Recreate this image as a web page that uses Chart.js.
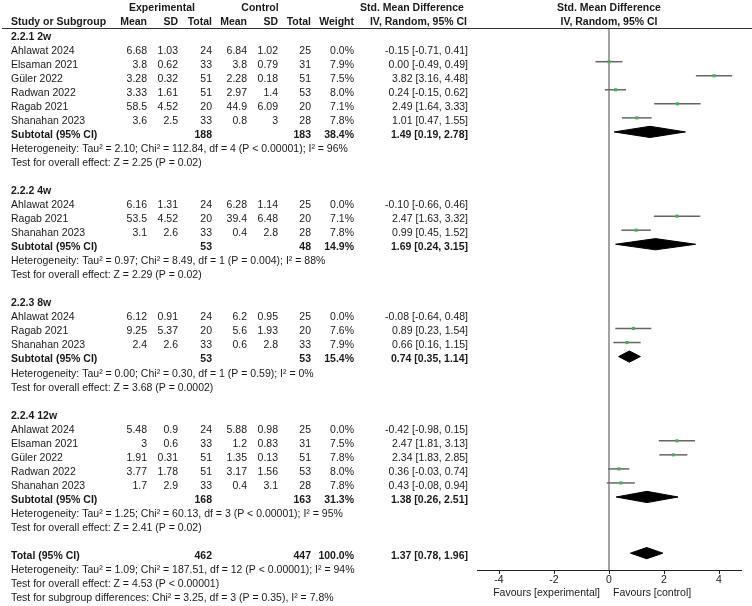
<!DOCTYPE html>
<html>
<head>
<meta charset="utf-8">
<script src="https://cdn.jsdelivr.net/npm/chart.js@4"></script>
<style>
  html, body { margin: 0; padding: 0; background: #fff; }
  canvas { display: block; }
</style>
</head>
<body>
<canvas id="forest" width="752" height="606"></canvas>
<script>
// ---- data ----
var groupLabels = ["2.2.1 2w", "2.2.2 4w", "2.2.3 8w", "2.2.4 12w"];
var groupSizes = [6, 3, 3, 5];

var studyNames = ["Ahlawat 2024", "Elsaman 2021", "Güler 2022", "Radwan 2022", "Ragab 2021", "Shanahan 2023",
                  "Ahlawat 2024", "Ragab 2021", "Shanahan 2023",
                  "Ahlawat 2024", "Ragab 2021", "Shanahan 2023",
                  "Ahlawat 2024", "Elsaman 2021", "Güler 2022", "Radwan 2022", "Shanahan 2023"];
var expMean  = [6.68, 3.8, 3.28, 3.33, 58.5, 3.6,  6.16, 53.5, 3.1,  6.12, 9.25, 2.4,  5.48, 3, 1.91, 3.77, 1.7];
var expSD    = [1.03, 0.62, 0.32, 1.61, 4.52, 2.5,  1.31, 4.52, 2.6,  0.91, 5.37, 2.6,  0.9, 0.6, 0.31, 1.78, 2.9];
var expTotal = [24, 33, 51, 51, 20, 33,  24, 20, 33,  24, 20, 33,  24, 33, 51, 51, 33];
var ctlMean  = [6.84, 3.8, 2.28, 2.97, 44.9, 0.8,  6.28, 39.4, 0.4,  6.2, 5.6, 0.6,  5.88, 1.2, 1.35, 3.17, 0.4];
var ctlSD    = [1.02, 0.79, 0.18, 1.4, 6.09, 3,  1.14, 6.48, 2.8,  0.95, 1.93, 2.8,  0.98, 0.83, 0.13, 1.56, 3.1];
var ctlTotal = [25, 31, 51, 53, 20, 28,  25, 20, 28,  25, 20, 33,  25, 31, 51, 53, 28];
var weights  = [0.0, 7.9, 7.5, 8.0, 7.1, 7.8,  0.0, 7.1, 7.8,  0.0, 7.6, 7.9,  0.0, 7.5, 7.8, 8.0, 7.8];
var smd      = [-0.15, 0.00, 3.82, 0.24, 2.49, 1.01,  -0.10, 2.47, 0.99,  -0.08, 0.89, 0.66,  -0.42, 2.47, 2.34, 0.36, 0.43];
var ciLow    = [-0.71, -0.49, 3.16, -0.15, 1.64, 0.47,  -0.66, 1.63, 0.45,  -0.64, 0.23, 0.16,  -0.98, 1.81, 1.83, -0.03, -0.08];
var ciHigh   = [0.41, 0.49, 4.48, 0.62, 3.33, 1.55,  0.46, 3.32, 1.52,  0.48, 1.54, 1.15,  0.15, 3.13, 2.85, 0.74, 0.94];

var subExpTotal = [188, 53, 53, 168];
var subCtlTotal = [183, 48, 53, 163];
var subWeight   = [38.4, 14.9, 15.4, 31.3];
var subSmd      = [1.49, 1.69, 0.74, 1.38];
var subLow      = [0.19, 0.24, 0.35, 0.26];
var subHigh     = [2.78, 3.15, 1.14, 2.51];
var subHetText = [
  "Heterogeneity: Tau² = 2.10; Chi² = 112.84, df = 4 (P < 0.00001); I² = 96%",
  "Heterogeneity: Tau² = 0.97; Chi² = 8.49, df = 1 (P = 0.004); I² = 88%",
  "Heterogeneity: Tau² = 0.00; Chi² = 0.30, df = 1 (P = 0.59); I² = 0%",
  "Heterogeneity: Tau² = 1.25; Chi² = 60.13, df = 3 (P < 0.00001); I² = 95%"
];
var subTestText = [
  "Test for overall effect: Z = 2.25 (P = 0.02)",
  "Test for overall effect: Z = 2.29 (P = 0.02)",
  "Test for overall effect: Z = 3.68 (P = 0.0002)",
  "Test for overall effect: Z = 2.41 (P = 0.02)"
];

var totalExp = 462, totalCtl = 447, totalWeight = 100.0;
var totalSmd = 1.37, totalLow = 0.78, totalHigh = 1.96;
var totalText = [
  "Heterogeneity: Tau² = 1.09; Chi² = 187.51, df = 12 (P < 0.00001); I² = 94%",
  "Test for overall effect: Z = 4.53 (P < 0.00001)",
  "Test for subgroup differences: Chi² = 3.25, df = 3 (P = 0.35), I² = 7.8%"
];

var xTicks = [-4, -2, 0, 2, 4];
var xTickLabels = ["-4", "-2", "0", "2", "4"];

// ---- row layout ----
var studyRow = [], groupRow = [], subRow = [];
var r = 0, k = 0;
for (var g = 0; g < groupLabels.length; g++) {
  groupRow.push(r); r++;
  for (var j = 0; j < groupSizes[g]; j++) { studyRow.push(r); r++; k++; }
  subRow.push(r);
  r += 4; // subtotal, heterogeneity, test, blank
}
var totalRow = r;

var FONT = '"Liberation Sans", Arial, sans-serif';
var SIZE = 10.5;
var GREEN = "#4caf50";
var GREY = "#666666";

function ci(e, l, h) {
  return e.toFixed(2) + " [" + l.toFixed(2) + ", " + h.toFixed(2) + "]";
}
function diamond(e, l, h, row) {
  var hh = 0.4;
  return [{x: l, y: row}, {x: e, y: row - hh}, {x: h, y: row}, {x: e, y: row + hh}, {x: l, y: row}];
}

var datasets = [];
// zero line
datasets.push({
  data: [{x: 0, y: -0.4}, {x: 0, y: 38.2}],
  showLine: true, borderColor: "#8c8c8c", borderWidth: 1.6, pointRadius: 0, order: 5
});
// whiskers
var markers = [];
for (var i = 0; i < studyNames.length; i++) {
  if (weights[i] <= 0) continue;
  datasets.push({
    data: [{x: ciLow[i], y: studyRow[i]}, {x: ciHigh[i], y: studyRow[i]}],
    showLine: true, borderColor: GREY, borderWidth: 1.5, pointRadius: 0, order: 3
  });
  markers.push({x: smd[i], y: studyRow[i]});
}
datasets.push({
  data: markers, pointStyle: "rect", pointRadius: 2.2,
  backgroundColor: GREEN, borderColor: GREEN, borderWidth: 0, order: 1
});
// diamonds
for (var g2 = 0; g2 < groupLabels.length; g2++) {
  datasets.push({
    data: diamond(subSmd[g2], subLow[g2], subHigh[g2], subRow[g2]),
    showLine: true, fill: "shape", backgroundColor: "#000", borderColor: "#000",
    borderWidth: 1, pointRadius: 0, tension: 0, order: 2
  });
}
datasets.push({
  data: diamond(totalSmd, totalLow, totalHigh, totalRow),
  showLine: true, fill: "shape", backgroundColor: "#000", borderColor: "#000",
  borderWidth: 1, pointRadius: 0, tension: 0, order: 2
});

// text table drawn beside the plot
var tablePlugin = {
  id: "table",
  afterDraw: function (chart) {
    var c = chart.ctx;
    var y = chart.scales.y;
    var x = chart.scales.x;
    function font(b) { c.font = (b ? "bold " : "") + SIZE + "px " + FONT; }
    function txt(s, px, py, align, b) {
      font(b);
      c.textAlign = align;
      c.fillText(s, px, py);
    }
    function rowY(row) { return y.getPixelForValue(row) + 3; }

    c.save();
    c.fillStyle = "#1a1a1a";
    c.textBaseline = "middle";

    // header
    txt("Experimental", 162, 8, "center", true);
    txt("Control", 260, 8, "center", true);
    txt("Std. Mean Difference", 412, 8, "center", true);
    txt("Std. Mean Difference", x.getPixelForValue(0), 8, "center", true);
    txt("Study or Subgroup", 11, 22, "left", true);
    txt("Mean", 147, 22, "right", true);
    txt("SD", 178, 22, "right", true);
    txt("Total", 212, 22, "right", true);
    txt("Mean", 247, 22, "right", true);
    txt("SD", 278, 22, "right", true);
    txt("Total", 311, 22, "right", true);
    txt("Weight", 354, 22, "right", true);
    txt("IV, Random, 95% CI", 467, 22, "right", true);
    txt("IV, Random, 95% CI", x.getPixelForValue(0), 22, "center", true);

    c.strokeStyle = "#333";
    c.lineWidth = 1;
    c.beginPath();
    c.moveTo(2, 28.5);
    c.lineTo(752, 28.5);
    c.stroke();

    var idx = 0;
    for (var g = 0; g < groupLabels.length; g++) {
      txt(groupLabels[g], 11, rowY(groupRow[g]), "left", true);
      for (var j = 0; j < groupSizes[g]; j++, idx++) {
        var py = rowY(studyRow[idx]);
        txt(studyNames[idx], 11, py, "left", false);
        txt(String(expMean[idx]), 147, py, "right", false);
        txt(String(expSD[idx]), 178, py, "right", false);
        txt(String(expTotal[idx]), 212, py, "right", false);
        txt(String(ctlMean[idx]), 247, py, "right", false);
        txt(String(ctlSD[idx]), 278, py, "right", false);
        txt(String(ctlTotal[idx]), 311, py, "right", false);
        txt(weights[idx].toFixed(1) + "%", 354, py, "right", false);
        txt(ci(smd[idx], ciLow[idx], ciHigh[idx]), 468, py, "right", false);
      }
      var sy = rowY(subRow[g]);
      txt("Subtotal (95% CI)", 11, sy, "left", true);
      txt(String(subExpTotal[g]), 212, sy, "right", true);
      txt(String(subCtlTotal[g]), 311, sy, "right", true);
      txt(subWeight[g].toFixed(1) + "%", 354, sy, "right", true);
      txt(ci(subSmd[g], subLow[g], subHigh[g]), 468, sy, "right", true);
      txt(subHetText[g], 11, rowY(subRow[g] + 1), "left", false);
      txt(subTestText[g], 11, rowY(subRow[g] + 2), "left", false);
    }
    var ty = rowY(totalRow);
    txt("Total (95% CI)", 11, ty, "left", true);
    txt(String(totalExp), 212, ty, "right", true);
    txt(String(totalCtl), 311, ty, "right", true);
    txt(totalWeight.toFixed(1) + "%", 354, ty, "right", true);
    txt(ci(totalSmd, totalLow, totalHigh), 468, ty, "right", true);
    for (var t = 0; t < totalText.length; t++) {
      txt(totalText[t], 11, rowY(totalRow + 1 + t), "left", false);
    }

    // favours labels
    var zx = x.getPixelForValue(0);
    txt("Favours [experimental]", zx - 9, 593, "right", false);
    txt("Favours [control]", zx + 4, 593, "left", false);
    c.restore();
  }
};

var ctx = document.getElementById("forest");
var forest = new Chart(ctx, {
  type: "scatter",
  data: { datasets: datasets },
  options: {
    responsive: false,
    animation: false,
    events: [],
    layout: { padding: { left: 477, right: 11, top: 28, bottom: 0 } },
    plugins: {
      legend: { display: false },
      tooltip: { enabled: false },
      title: { display: false }
    },
    elements: { line: { tension: 0 } },
    scales: {
      x: {
        type: "linear",
        min: -4.8,
        max: 4.8,
        afterBuildTicks: function (axis) {
          axis.ticks = xTicks.map(function (v) { return {value: v}; });
        },
        afterFit: function (axis) { axis.height = 36; },
        grid: { drawOnChartArea: false, drawTicks: true, tickLength: 4, color: "#222" },
        border: { display: true, color: "#222", width: 1 },
        ticks: {
          padding: 0,
          color: "#1a1a1a",
          font: { family: FONT, size: SIZE },
          maxRotation: 0,
          callback: function (v) {
            var i = xTicks.indexOf(v);
            return i >= 0 ? xTickLabels[i] : "";
          }
        }
      },
      y: {
        type: "linear",
        display: false,
        reverse: true,
        min: -0.4,
        max: 38.2
      }
    }
  },
  plugins: [tablePlugin]
});
</script>
</body>
</html>
